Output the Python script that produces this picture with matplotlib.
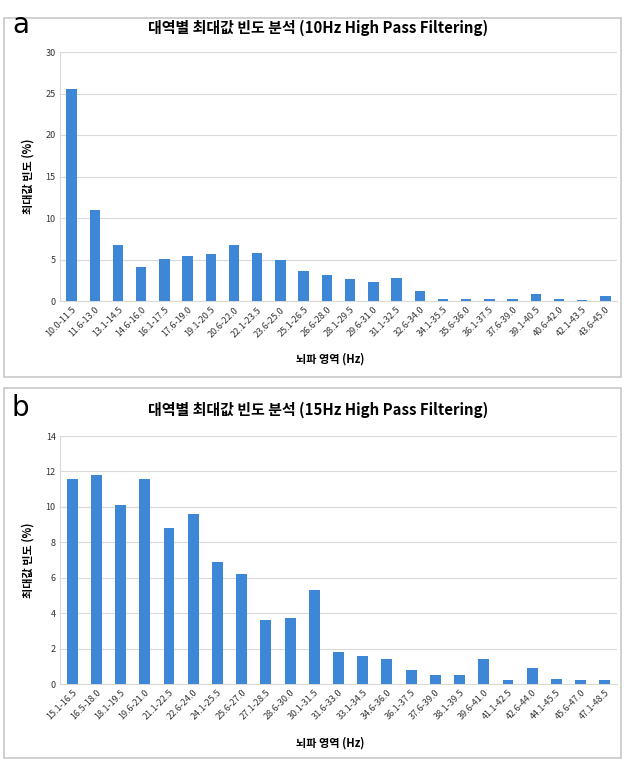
import matplotlib
matplotlib.use("Agg")
import matplotlib.pyplot as plt
from matplotlib.patches import Rectangle

plt.rcParams['font.family'] = ['Noto Sans CJK KR', 'DejaVu Sans']

cats_a = ["10.0-11.5", "11.6-13.0", "13.1-14.5", "14.6-16.0", "16.1-17.5", "17.6-19.0",
          "19.1-20.5", "20.6-22.0", "22.1-23.5", "23.6-25.0", "25.1-26.5", "26.6-28.0",
          "28.1-29.5", "29.6-31.0", "31.1-32.5", "32.6-34.0", "34.1-35.5", "35.6-36.0",
          "36.1-37.5", "37.6-39.0", "39.1-40.5", "40.6-42.0", "42.1-43.5", "43.6-45.0"]
vals_a = [25.5, 11.0, 6.7, 4.1, 5.1, 5.4, 5.7, 6.7, 5.8, 4.9, 3.6, 3.1,
          2.6, 2.3, 2.8, 1.2, 0.3, 0.2, 0.3, 0.3, 0.9, 0.3, 0.1, 0.6]

cats_b = ["15.1-16.5", "16.5-18.0", "18.1-19.5", "19.6-21.0", "21.1-22.5", "22.6-24.0",
          "24.1-25.5", "25.6-27.0", "27.1-28.5", "28.6-30.0", "30.1-31.5", "31.6-33.0",
          "33.1-34.5", "34.6-36.0", "36.1-37.5", "37.6-39.0", "38.1-39.5", "39.6-41.0",
          "41.1-42.5", "42.6-44.0", "44.1-45.5", "45.6-47.0", "47.1-48.5"]
vals_b = [11.6, 11.8, 10.1, 11.6, 8.8, 9.6, 6.9, 6.2, 3.6, 3.7, 5.3, 1.8,
          1.6, 1.4, 0.8, 0.5, 0.5, 1.4, 0.2, 0.9, 0.3, 0.2, 0.2]

title_a = "대역별 최대값 빈도 분석 (10Hz High Pass Filtering)"
title_b = "대역별 최대값 빈도 분석 (15Hz High Pass Filtering)"
ylabel = "최대값 빈도 (%)"
xlabel = "뇌파 영역 (Hz)"
yticks_a = [0, 5, 10, 15, 20, 25, 30]
yticks_b = [0, 2, 4, 6, 8, 10, 12, 14]

W, H = 624, 760
fig = plt.figure(figsize=(W / 100, H / 100), dpi=100)
fig.patch.set_facecolor("white")

# panel frames
for (y0, y1) in [(18, 377), (388, 758)]:
    fig.patches.append(Rectangle((4 / W, 1 - y1 / H), (621 - 4) / W, (y1 - y0) / H,
                                 transform=fig.transFigure, fill=False,
                                 edgecolor="#c8c8c8", linewidth=1.2))

bar_color = "#3d87d6"

def panel(rect, cats, vals, yticks, title, letter, title_y, letter_y, xl_y):
    ax = fig.add_axes(rect)
    x = list(range(len(cats)))
    ax.bar(x, vals, width=0.45, color=bar_color, zorder=3)
    ax.set_xlim(-0.5, len(cats) - 0.5)
    ax.set_ylim(yticks[0], yticks[-1])
    ax.set_yticks(yticks)
    ax.set_yticklabels([str(t) for t in yticks], fontsize=6.5, color="#333333")
    ax.set_xticks(x)
    ax.set_xticklabels(cats, rotation=45, ha="right", rotation_mode="anchor",
                       fontsize=6.5, color="#333333")
    ax.tick_params(axis="both", length=0, pad=3)
    ax.grid(axis="y", color="#d9d9d9", linewidth=0.8, zorder=0)
    for s in ["top", "right"]:
        ax.spines[s].set_visible(False)
    for s in ["left", "bottom"]:
        ax.spines[s].set_color("#d9d9d9")
        ax.spines[s].set_linewidth(0.8)
    ax.set_ylabel(ylabel, fontsize=8, fontweight="bold", labelpad=8)
    fig.text(318 / W, 1 - title_y / H, title, fontsize=10.8, fontweight="bold",
             ha="center", va="center")
    fig.text(12 / W, 1 - letter_y / H, letter, fontsize=20, ha="left", va="center",
             family=["DejaVu Sans"])
    fig.text(330 / W, 1 - xl_y / H, xlabel, fontsize=8, fontweight="bold",
             ha="center", va="center")
    return ax

panel([60 / W, 1 - 301 / H, 557 / W, (301 - 52) / H], cats_a, vals_a, yticks_a,
      title_a, "a", 28, 25, 359)
panel([60 / W, 1 - 684 / H, 557 / W, (684 - 436) / H], cats_b, vals_b, yticks_b,
      title_b, "b", 410, 408, 743)

fig.savefig("out.png", dpi=100, facecolor="white")
